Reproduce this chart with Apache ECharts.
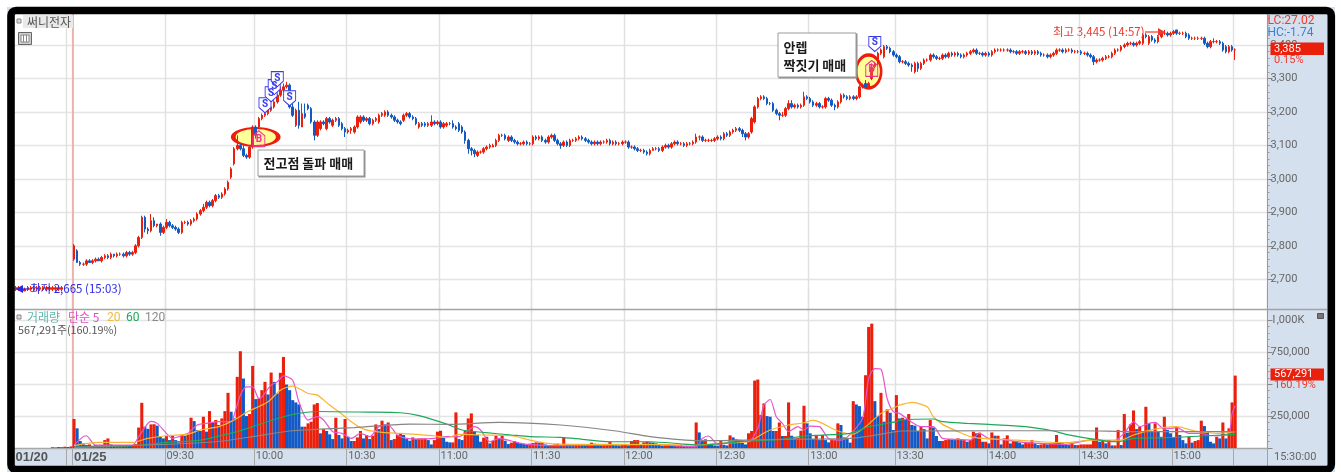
<!DOCTYPE html>
<html>
<head>
<meta charset="utf-8">
<style>
  html, body { margin: 0; padding: 0; background: #fff; }
  #chart { width: 1341px; height: 472px; }
</style>
<script src="https://cdn.jsdelivr.net/npm/echarts@6/dist/echarts.min.js"></script>
</head>
<body>
<div id="chart"></div>
<script>
// 1-minute bars, index 0-18 belong to the previous day (01/20)
var opens = [
  2670,2670,2670,2665,2670,2670,2670,2670,2670,2670,2670,2670,2670,2670,2670,2670,null,null,null,
  2760,2785,2750,2745,2745,2755,2750,2755,2760,2755,
  2765,2770,2765,2775,2770,2775,2775,2770,2780,2775,
  2780,2800,2825,2885,2850,2845,2875,2860,2865,2840,
  2855,2870,2860,2855,2850,2840,2870,2870,2865,2875,
  2880,2895,2905,2915,2930,2920,2935,2950,2945,2955,
  2970,3005,3045,3090,3100,3090,3070,3065,3095,3155,
  3155,3180,3190,3195,3205,3215,3230,3250,3265,3275,
  3280,3215,3160,3205,3155,3195,3220,3210,3170,3130,
  3150,3170,3150,3180,3160,3175,3180,3165,3150,3140,
  3145,3140,3155,3170,3185,3175,3180,3165,3175,3170,
  3190,3190,3200,3190,3185,3175,3170,3175,3190,3195,
  3185,3180,3155,3165,3165,3160,3160,3170,3165,3170,
  3155,3160,3165,3165,3155,3165,3155,3140,3115,3090,
  3085,3070,3080,3080,3090,3095,3095,3100,3115,3130,
  3130,3115,3125,3115,3110,3105,3105,3110,3105,3105,
  3125,3120,3125,3115,3110,3125,3130,3115,3105,3100,
  3110,3100,3115,3115,3120,3125,3120,3115,3110,3105,
  3110,3105,3110,3110,3115,3105,3110,3105,3105,3110,
  3110,3095,3095,3090,3085,3085,3080,3075,3085,3090,
  3090,3085,3095,3100,3095,3105,3110,3105,3105,3100,
  3105,3105,3110,3125,3125,3115,3115,3115,3115,3120,
  3125,3120,3135,3130,3140,3145,3150,3145,3135,3125,
  3140,3170,3215,3240,3245,3240,3225,3225,3205,3195,
  3190,3190,3210,3225,3215,3220,3215,3220,3245,3240,
  3230,3220,3225,3215,3215,3240,3235,3220,3215,3230,
  3250,3245,3240,3245,3240,3245,3275,3285,3275,3300,
  3335,3345,3375,3365,3395,3390,3380,3370,3365,3350,
  3350,3345,3340,3320,3345,3330,3345,3355,3355,3370,
  3365,3360,3360,3370,3365,3375,3370,3375,3370,3365,
  3370,3375,3380,3385,3375,3375,3370,3375,3370,3380,
  3385,3385,3385,3385,3385,3380,3380,3375,3380,3380,
  3375,3380,3375,3380,3375,3370,3370,3365,3370,3375,
  3385,3385,3380,3385,3385,3380,3380,3380,3375,3375,
  3370,3365,3350,3355,3355,3360,3365,3365,3375,3385,
  3385,3395,3400,3405,3405,3400,3405,3405,3430,3405,
  3425,3415,3410,3425,3435,3435,3430,3435,3445,3435,
  3435,3435,3430,3420,3420,3420,3420,3420,3405,3395,
  3410,3410,3410,3405,3395,3380,3395,3385
];
var closes = [
  2675,2675,2675,2670,2675,2675,2675,2675,2675,2675,2675,2675,2675,2675,2675,2675,null,null,null,
  2800,2750,2745,2745,2755,2750,2755,2760,2755,2765,
  2770,2765,2775,2770,2775,2775,2770,2780,2775,2780,
  2800,2825,2885,2850,2845,2875,2860,2865,2840,2855,
  2870,2860,2855,2850,2840,2870,2870,2865,2875,2880,
  2895,2905,2915,2930,2920,2935,2950,2945,2955,2970,
  2990,3030,3090,3100,3090,3070,3065,3095,3155,3130,
  3180,3190,3195,3205,3215,3230,3250,3265,3275,3280,
  3215,3190,3205,3160,3195,3185,3210,3170,3130,3170,
  3170,3165,3180,3170,3175,3180,3160,3150,3140,3145,
  3150,3155,3185,3185,3175,3180,3165,3175,3180,3190,
  3195,3200,3190,3185,3175,3170,3165,3190,3195,3185,
  3180,3165,3165,3160,3160,3165,3170,3165,3170,3155,
  3165,3165,3165,3155,3150,3145,3140,3115,3090,3085,
  3075,3080,3080,3090,3095,3100,3100,3115,3130,3130,
  3120,3125,3115,3110,3105,3105,3110,3105,3105,3125,
  3120,3125,3115,3110,3125,3130,3115,3105,3100,3110,
  3100,3115,3115,3120,3125,3120,3115,3110,3105,3110,
  3105,3110,3110,3115,3105,3110,3105,3105,3110,3110,
  3095,3095,3090,3085,3085,3080,3075,3085,3090,3090,
  3085,3095,3100,3095,3105,3110,3105,3105,3100,3105,
  3105,3110,3125,3125,3115,3115,3115,3115,3120,3125,
  3120,3135,3130,3140,3145,3150,3145,3135,3125,3135,
  3180,3215,3240,3245,3240,3225,3225,3205,3195,3190,
  3190,3210,3225,3215,3220,3215,3220,3245,3240,3230,
  3220,3225,3215,3215,3240,3235,3220,3215,3230,3250,
  3245,3240,3245,3240,3245,3275,3280,3275,3285,3330,
  3345,3375,3385,3395,3390,3380,3370,3365,3350,3350,
  3345,3340,3335,3345,3330,3345,3355,3355,3370,3365,
  3360,3360,3370,3365,3375,3370,3375,3370,3365,3370,
  3375,3380,3385,3375,3375,3370,3375,3370,3380,3385,
  3385,3385,3385,3385,3380,3380,3375,3380,3380,3375,
  3380,3375,3380,3375,3370,3370,3365,3370,3375,3385,
  3385,3380,3385,3385,3380,3380,3380,3375,3375,3370,
  3365,3350,3355,3355,3360,3365,3365,3375,3385,3385,
  3395,3400,3405,3405,3400,3405,3410,3430,3425,3425,
  3415,3410,3425,3435,3435,3430,3435,3440,3435,3435,
  3435,3425,3420,3420,3420,3420,3420,3405,3395,3410,
  3410,3410,3405,3385,3380,3395,3385,3385
];
var highs = [
  2680,2680,2680,2675,2680,2680,2680,2680,2680,2680,2680,2680,2680,2680,2680,2680,null,null,null,
  2805,2790,2755,2750,2760,2760,2760,2765,2765,2770,
  2775,2775,2780,2775,2780,2780,2780,2785,2785,2785,
  2805,2830,2890,2890,2855,2895,2885,2865,2870,2860,
  2880,2875,2865,2860,2855,2875,2875,2875,2880,2885,
  2900,2910,2925,2935,2935,2940,2955,2955,2960,2975,
  2995,3035,3095,3130,3105,3100,3075,3100,3160,3160,
  3185,3195,3200,3210,3220,3235,3255,3275,3285,3290,
  3285,3225,3210,3230,3225,3225,3225,3215,3175,3175,
  3175,3175,3185,3185,3180,3185,3185,3170,3155,3150,
  3155,3160,3190,3190,3190,3185,3185,3180,3185,3195,
  3200,3205,3205,3195,3190,3180,3175,3195,3200,3200,
  3190,3185,3170,3170,3170,3170,3190,3175,3175,3175,
  3170,3170,3170,3175,3160,3170,3160,3145,3120,3095,
  3090,3085,3085,3095,3100,3105,3105,3120,3135,3135,
  3135,3130,3130,3120,3115,3110,3115,3115,3110,3130,
  3130,3130,3130,3120,3130,3135,3135,3120,3110,3115,
  3115,3120,3120,3125,3130,3130,3125,3120,3115,3115,
  3115,3115,3115,3120,3120,3115,3115,3110,3115,3115,
  3115,3100,3100,3095,3090,3090,3085,3090,3095,3095,
  3095,3100,3105,3105,3110,3115,3115,3110,3110,3110,
  3110,3115,3135,3130,3130,3120,3120,3120,3125,3130,
  3130,3140,3140,3145,3150,3155,3155,3150,3140,3140,
  3185,3220,3245,3250,3250,3245,3230,3230,3210,3200,
  3200,3215,3235,3235,3225,3225,3225,3260,3250,3245,
  3235,3230,3230,3220,3245,3245,3240,3225,3235,3255,
  3255,3250,3250,3250,3250,3280,3285,3295,3290,3345,
  3350,3380,3390,3400,3400,3395,3385,3375,3370,3355,
  3355,3350,3345,3350,3350,3350,3360,3360,3375,3375,
  3370,3365,3375,3375,3380,3380,3380,3380,3375,3375,
  3380,3385,3390,3390,3380,3380,3380,3380,3385,3390,
  3390,3390,3390,3390,3390,3385,3385,3385,3385,3385,
  3385,3385,3385,3385,3380,3375,3375,3375,3380,3390,
  3390,3390,3390,3390,3390,3385,3385,3385,3380,3380,
  3375,3370,3360,3360,3365,3370,3370,3380,3390,3390,
  3400,3405,3410,3410,3410,3410,3415,3435,3435,3430,
  3430,3420,3430,3440,3445,3440,3440,3445,3445,3440,
  3440,3440,3435,3425,3425,3425,3425,3425,3410,3415,
  3420,3415,3415,3410,3400,3400,3400,3390
];
var lows = [
  2665,2665,2665,2665,2665,2665,2665,2665,2665,2665,2665,2665,2665,2665,2665,2665,null,null,null,
  2755,2750,2740,2740,2740,2750,2745,2750,2755,2750,
  2760,2760,2760,2765,2765,2770,2765,2765,2770,2770,
  2775,2795,2820,2840,2835,2840,2855,2855,2830,2835,
  2850,2855,2850,2845,2835,2835,2865,2860,2860,2870,
  2875,2890,2900,2910,2915,2915,2930,2940,2940,2950,
  2965,3000,3040,3085,3085,3065,3060,3060,3090,3120,
  3150,3175,3185,3190,3200,3210,3225,3245,3260,3270,
  3210,3185,3155,3150,3155,3180,3205,3165,3115,3125,
  3145,3160,3145,3165,3155,3170,3155,3145,3125,3135,
  3135,3135,3150,3165,3170,3170,3160,3160,3170,3165,
  3185,3185,3185,3180,3170,3165,3160,3170,3185,3180,
  3175,3160,3150,3155,3155,3155,3155,3160,3160,3150,
  3150,3155,3160,3150,3145,3140,3135,3105,3075,3070,
  3065,3065,3075,3075,3085,3090,3095,3095,3110,3125,
  3115,3110,3110,3105,3100,3100,3100,3100,3100,3100,
  3115,3115,3110,3105,3105,3120,3110,3100,3090,3095,
  3095,3095,3110,3110,3115,3115,3110,3105,3100,3100,
  3100,3100,3105,3105,3100,3100,3100,3100,3100,3105,
  3090,3090,3085,3080,3080,3075,3070,3070,3085,3085,
  3080,3080,3090,3090,3090,3100,3100,3100,3095,3095,
  3100,3100,3105,3115,3110,3110,3110,3110,3110,3115,
  3115,3115,3125,3125,3135,3140,3140,3125,3115,3120,
  3135,3165,3210,3235,3235,3220,3220,3200,3190,3175,
  3185,3185,3205,3210,3210,3210,3210,3215,3235,3225,
  3215,3215,3210,3210,3210,3230,3215,3205,3210,3225,
  3240,3235,3235,3235,3235,3240,3270,3270,3270,3295,
  3330,3340,3370,3360,3385,3375,3365,3360,3345,3345,
  3340,3335,3320,3315,3320,3325,3340,3350,3350,3360,
  3355,3355,3355,3360,3360,3365,3365,3365,3360,3360,
  3365,3370,3375,3370,3370,3365,3365,3365,3365,3375,
  3380,3380,3380,3380,3375,3375,3370,3370,3375,3370,
  3370,3370,3370,3370,3365,3365,3360,3360,3365,3370,
  3380,3375,3375,3380,3375,3375,3375,3370,3370,3365,
  3360,3340,3345,3350,3350,3355,3360,3360,3370,3380,
  3380,3390,3395,3400,3395,3395,3400,3400,3420,3400,
  3410,3405,3405,3420,3430,3425,3425,3430,3430,3430,
  3430,3420,3415,3415,3415,3415,3415,3400,3390,3390,
  3405,3405,3400,3380,3375,3375,3380,3355
];
// thousands of shares
var volumes = [
  0,0,0,0,0,0,0,0,0,0,
  0,0,6,4,8,6,10,8,12,
  227,154,55,36,23,28,18,23,20,24,
  62,75,28,18,20,23,15,18,15,20,
  30,160,354,167,150,185,186,175,88,75,
  94,62,94,62,44,100,96,107,237,211,
  140,133,245,128,289,200,219,180,232,289,
  432,284,232,557,758,544,250,266,643,383,
  388,453,518,419,591,518,427,589,713,497,
  453,375,357,341,167,167,193,206,341,352,
  115,148,133,107,70,237,102,75,227,88,
  55,55,83,133,75,102,70,96,185,148,
  214,185,200,62,70,102,115,102,70,57,
  83,70,75,75,75,62,28,62,128,135,
  88,49,44,44,279,70,62,133,232,271,
  128,102,49,81,88,36,55,96,70,102,
  57,31,42,55,44,36,31,28,34,39,
  44,42,44,28,18,23,28,34,23,83,
  28,20,15,20,31,26,20,28,42,34,
  26,18,20,23,49,26,20,18,23,28,
  20,55,62,62,30,44,49,44,42,36,
  26,18,20,28,23,15,18,23,15,18,
  12,15,200,122,55,68,28,23,20,18,
  55,25,20,99,83,68,57,42,28,115,
  133,528,536,258,349,250,245,133,133,200,
  94,94,357,96,75,81,135,331,193,115,
  70,94,62,102,62,44,62,62,193,180,
  83,70,42,367,341,328,245,570,948,974,
  367,250,432,206,302,276,141,414,232,237,
  219,266,180,175,133,167,148,75,219,161,
  94,55,55,62,70,65,62,75,62,62,
  49,62,128,115,120,49,49,36,122,96,
  96,28,75,99,36,55,49,42,28,42,
  42,62,36,23,28,36,28,34,36,102,
  44,36,28,23,36,23,23,28,28,28,
  28,62,161,49,62,36,62,20,20,141,
  23,266,120,185,294,148,167,133,323,193,
  133,193,133,88,245,141,115,81,167,102,
  62,36,88,42,55,62,214,172,128,49,
  36,88,75,200,75,154,357,567
];
// moving averages, read at their turning points: [bar index, thousands]
var ma5 = [[19,23],[22,89],[23,96],[26,23],[38,23],[40,89],[43,193],[44,208],[46,193],[49,115],[51,75],[53,89],[56,115],[59,180],[62,193],[66,206],[70,206],[71,258],[73,414],[75,479],[77,479],[79,388],[80,401],[83,492],[85,518],[87,565],[90,531],[92,362],[95,219],[98,245],[100,219],[103,128],[106,115],[109,75],[112,115],[115,89],[118,167],[121,180],[124,102],[127,75],[131,70],[136,75],[140,89],[144,89],[149,167],[151,141],[154,49],[157,75],[161,55],[166,29],[177,18],[195,23],[206,29],[221,10],[223,75],[225,94],[228,29],[235,62],[238,49],[241,154],[243,336],[245,380],[247,245],[249,193],[251,128],[254,167],[256,141],[258,172],[261,167],[264,75],[268,62],[271,107],[275,232],[277,544],[279,622],[281,617],[283,388],[285,284],[287,271],[290,219],[294,167],[298,167],[301,75],[305,68],[310,62],[313,115],[316,75],[322,62],[327,44],[333,36],[341,29],[350,68],[356,49],[360,115],[363,206],[365,167],[368,193],[370,200],[373,148],[377,159],[381,115],[385,115],[388,96],[391,96],[394,115],[395,271],[396,330]];
var ma20 = [[19,18],[27,44],[38,44],[43,75],[49,96],[56,109],[60,141],[66,167],[71,219],[75,279],[82,362],[86,453],[90,484],[92,466],[95,427],[98,414],[102,336],[105,284],[109,206],[113,148],[119,122],[125,115],[136,96],[140,81],[144,107],[152,102],[161,96],[167,62],[173,36],[180,29],[195,29],[221,23],[228,36],[238,49],[242,102],[245,141],[251,180],[256,198],[259,219],[262,193],[267,133],[272,109],[276,167],[281,271],[286,323],[287,336],[291,357],[296,323],[298,245],[301,185],[306,128],[310,89],[314,75],[325,62],[333,49],[341,42],[350,62],[359,62],[363,102],[370,148],[377,167],[383,133],[391,115],[396,128]];
var ma60 = [[19,5],[38,18],[49,44],[60,62],[71,122],[77,167],[87,245],[92,271],[98,286],[114,281],[125,276],[131,253],[140,187],[145,141],[152,122],[161,102],[167,89],[177,83],[184,68],[193,49],[206,49],[217,31],[222,23],[238,55],[249,68],[256,94],[271,115],[277,167],[286,206],[287,219],[298,227],[301,206],[309,193],[316,185],[328,167],[337,133],[341,107],[352,62],[358,49],[363,75],[374,81],[385,94],[396,107]];
var ma120 = [[19,5],[49,29],[65,49],[77,89],[89,133],[99,148],[110,159],[114,167],[128,187],[141,185],[157,200],[177,180],[195,133],[206,89],[222,57],[249,68],[271,75],[286,128],[287,133],[320,135],[346,135],[363,128],[396,128]];

// buy / sell signals and the two marked zones: [bar index, price]
var sellSignals = [[81,3220],[83,3253],[84,3274],[85,3298],[89,3241],[279,3403]];
var buySignals = [[79,3120],[278,3330]];
var zones = [[78,3125,45,18],[277,3321,25,33]];

var priceTicks = { min: 2600, max: 3500, step: 100 };
var volumeTicks = { min: 0, max: 1250, step: 250 };

var labelTicks = ['01/20','01/25','09:30','10:00','10:30','11:00','11:30','12:00','12:30','13:00','13:30','14:00','14:30','15:00'];
var lineTicks = ['01/20-end','01/25','09:30','10:00','10:30','11:00','11:30','12:00','12:30','13:00','13:30','14:00','14:30','15:00','15:30'];
var skippedMinutes = ['09:47','13:10','13:20'];

function pad(n) { return (n < 10 ? '0' : '') + n; }

var categories = ['01/20'];
for (var p = 1; p < 19; p++) categories.push(p == 17 ? '01/20-end' : '01/20-' + p);
for (var m = 540; m < 920; m++) {
    var t = pad(Math.floor(m / 60)) + ':' + pad(m % 60);
    if (skippedMinutes.indexOf(t) >= 0) continue;
    categories.push(t == '09:00' ? '01/25' : t);
}
categories.push('15:30');
for (var e = 0; e < 10; e++) categories.push('end-' + e);

var candleData = opens.map(function (o, i) {
    if (o === null) return ['-', '-', '-', '-'];
    return [o, closes[i], lows[i], highs[i]];
});

var RED = '#ea1f0c', BLUE = '#1259c4', PANEL = '#d5e0ee';
var KR = '"Noto Sans CJK KR", sans-serif';
var NUM = 'Roboto, "Noto Sans CJK KR", sans-serif';
var BAND = 3.08;
var gridLeft = 13.96, gridWidth = 407 * BAND;

function isLine(i, v) { return lineTicks.indexOf(v) >= 0; }
function isLabel(i, v) { return labelTicks.indexOf(v) >= 0; }
function comma(v) { return String(v).replace(/\B(?=(\d{3})+$)/g, ','); }

function txt(x, y, text, fill, font, z) {
    return { type: 'text', z: z || 70, silent: true, x: x, y: y,
        style: { text: text, fill: fill, font: font || ('12px ' + KR), verticalAlign: 'middle', align: 'left' } };
}
function box(x, y, w, h, fill, stroke, z) {
    return { type: 'rect', z: z || 65, silent: true, shape: { x: x, y: y, width: w, height: h },
        style: { fill: fill, stroke: stroke || null, lineWidth: stroke ? 1 : 0 } };
}
function seg(x1, y1, x2, y2, color, width, z) {
    return { type: 'line', z: z || 60, silent: true, shape: { x1: x1, y1: y1, x2: x2, y2: y2 },
        style: { stroke: color, lineWidth: width || 1 } };
}
function tri(points, fill) {
    return { type: 'polygon', z: 70, silent: true, shape: { points: points }, style: { fill: fill } };
}

var overlays = [
    seg(73, 14, 73, 448, '#f2a6a0', 1.6, 1),
    // strip cover and panel separator
    box(1268, 283, 5, 36, PANEL),
    seg(15, 309.5, 1327, 309.5, '#a3a3a3', 1.4, 66),
    seg(1267.5, 449, 1267.5, 466, '#a0a0a0', 1, 66),

    // name tag
    box(17, 19, 4, 4, '#ddd', '#888'),
    box(23, 15, 50, 13, '#e9e9e9'),
    txt(27, 22, '써니전자', '#555'),
    box(18.5, 32.5, 13, 12, '#cfcfcf', '#666'),
    box(21, 35, 8, 7, '#fff', '#888'),
    seg(23.5, 35, 23.5, 42, '#888', 1, 66),
    seg(26.5, 35, 26.5, 42, '#888', 1, 66),

    // right panel tags
    txt(1267.5, 20.5, 'LC:27.02', '#ee3a2c', '12px ' + NUM),
    txt(1267.5, 32.5, 'HC:-1.74', '#3d7fd9', '12px ' + NUM),
    box(1270.5, 42.5, 53.5, 12.5, RED),
    txt(1274, 49, '3,385', '#fff', '11px ' + NUM),
    txt(1274, 60.5, '0.15%', '#ee3a2c', '11px ' + NUM),
    box(1270.5, 368.5, 53.5, 12, RED),
    txt(1274, 374.5, '567,291', '#fff', '11px ' + NUM),
    txt(1274, 385.5, '160.19%', '#ee3a2c', '11px ' + NUM),
    box(1317.5, 313.5, 6, 5, '#777', '#555'),
    txt(1274, 457, '15:30:00', '#666', '11px ' + NUM),

    // volume legend
    box(17, 315, 4, 4, '#ddd', '#888'),
    txt(27, 317.5, '거래량', '#5cb8b2'),
    txt(68, 317.5, '단순 5', '#e04fc8'),
    txt(107, 317.5, '20', '#f5b73a', '12px ' + NUM),
    txt(126, 317.5, '60', '#1ea85a', '12px ' + NUM),
    txt(145, 317.5, '120', '#8a8a8a', '12px ' + NUM),
    txt(18, 330, '567,291주(160.19%)', '#555', '10.8px ' + KR),

    // high / low notes
    txt(30, 289, '최저 2,665 (15:03)', '#2a2ae6', '11.5px ' + KR),
    seg(20, 289, 30, 289, '#2a2ae6', 1.2, 70),
    tri([[15.5, 289], [23, 285], [23, 293]], '#2a2ae6'),
    txt(1053, 31.5, '최고 3,445 (14:57)', '#ee3a2c', '11.5px ' + KR),
    seg(1145, 32, 1159, 32, '#ee3a2c', 1.2, 70),
    tri([[1165, 32], [1158, 28], [1158, 36]], '#ee3a2c'),

    // trade notes
    box(258.5, 150.5, 107, 27, '#8f8f8f', null, 63),
    box(258, 150, 106, 26, '#fff', '#9a9a9a'),
    txt(263.5, 163.5, '전고점 돌파 매매', '#1a1a1a', 'bold 13px ' + KR),
    box(778.5, 33.5, 79, 45, '#8f8f8f', null, 63),
    box(778, 33, 78, 44, '#fff', '#9a9a9a'),
    txt(783.5, 47, '안렙', '#1a1a1a', 'bold 13px ' + KR),
    txt(783.5, 65, '짝짓기 매매', '#1a1a1a', 'bold 13px ' + KR),

    // outer frame
    { type: 'rect', z: 99, silent: true, shape: { x: 3.5, y: 3.5, width: 1335, height: 500 },
      style: { fill: null, stroke: '#fff', lineWidth: 7 } },
    { type: 'rect', z: 100, silent: true, shape: { x: 11, y: 10.5, width: 1320.3, height: 459, r: 5 },
      style: { fill: null, stroke: '#000', lineWidth: 7.6 } }
];

var chart = echarts.init(document.getElementById('chart'));
var gridLine = { show: true, interval: isLine, lineStyle: { color: '#e0e0e0', width: 1.4 } };
var hLine = { show: true, showMinLine: false, showMaxLine: false, lineStyle: { color: '#e4e4e4', width: 1.4 } };
var maLine = function (name, data, color) {
    return { name: name, type: 'line', xAxisIndex: 1, yAxisIndex: 1, data: data, z: 4,
        showSymbol: false, smooth: 0.25, silent: true, lineStyle: { color: color, width: 1.2 } };
};

var option = {
    animation: false,
    backgroundColor: PANEL,
    textStyle: { fontFamily: NUM },
    grid: [
        { left: gridLeft, top: 11.53, width: gridWidth, height: 301.2, show: true, backgroundColor: '#fff', borderWidth: 0 },
        { left: gridLeft, top: 288.4, width: gridWidth, height: 159.6, show: true, backgroundColor: '#fff', borderWidth: 0 }
    ],
    xAxis: [
        { type: 'category', gridIndex: 0, data: categories, boundaryGap: true,
          axisLine: { show: false }, axisTick: { show: false }, axisLabel: { show: false }, splitLine: gridLine },
        { type: 'category', gridIndex: 1, data: categories, boundaryGap: true,
          axisLine: { show: true, lineStyle: { color: '#a8a8a8', width: 1.4 } },
          axisTick: { show: true, interval: isLine, length: 17, lineStyle: { color: '#a8a8a8' } },
          splitLine: gridLine,
          axisLabel: {
              show: true, interval: isLabel, align: 'left', margin: 3, color: '#666', fontSize: 11, fontFamily: NUM,
              formatter: function (v) { return v.indexOf('/') > 0 ? '{d|' + v + '}' : v; },
              rich: { d: { fontSize: 13, fontWeight: 'bold', color: '#555', fontFamily: 'Liberation Sans' } }
          } }
    ],
    yAxis: [
        { type: 'value', gridIndex: 0, position: 'right', min: priceTicks.min, max: priceTicks.max, interval: priceTicks.step,
          axisLine: { show: true, lineStyle: { color: '#9a9a9a' } },
          axisTick: { show: true, length: 5, lineStyle: { color: '#888' } },
          minorTick: { show: true, splitNumber: 5, length: 2, lineStyle: { color: '#999' } },
          splitLine: hLine,
          axisLabel: { margin: 3, color: '#666', fontSize: 11, fontFamily: NUM,
              formatter: function (v) { return v <= priceTicks.min || v >= priceTicks.max ? '' : comma(v); } } },
        { type: 'value', gridIndex: 1, position: 'right', min: volumeTicks.min, max: volumeTicks.max, interval: volumeTicks.step,
          axisLine: { show: true, lineStyle: { color: '#9a9a9a' } },
          axisTick: { show: true, length: 5, lineStyle: { color: '#888' } },
          minorTick: { show: true, splitNumber: 5, length: 2, lineStyle: { color: '#999' } },
          splitLine: hLine,
          axisLabel: { margin: 3, color: '#666', fontSize: 11, fontFamily: NUM,
              formatter: function (v) {
                  if (v == 1000) return '1,000K';
                  if (v == 250 || v == 750) return v + ',000';
                  return '';
              } } }
    ],
    series: [
        { name: 'zones', type: 'scatter', xAxisIndex: 0, yAxisIndex: 0, z: 1, silent: true, data: zones,
          symbol: 'circle', symbolSize: function (d) { return [d[2], d[3]]; },
          itemStyle: { color: '#ffff99', borderColor: '#ee1c0c', borderWidth: 3, opacity: 1 } },
        { name: '써니전자', type: 'candlestick', xAxisIndex: 0, yAxisIndex: 0, z: 2, data: candleData, barWidth: 2,
          itemStyle: { color: RED, color0: BLUE, borderColor: RED, borderColor0: BLUE, borderWidth: 1 } },
        { name: 'sell', type: 'scatter', xAxisIndex: 0, yAxisIndex: 0, z: 5, silent: true, data: sellSignals,
          symbol: 'path://M0 0H12V9L6 14L0 9Z', symbolSize: [12, 15],
          itemStyle: { color: '#fff', borderColor: '#3a3aee', borderWidth: 1, opacity: 1 },
          label: { show: true, position: 'inside', offset: [0, -1], formatter: 'S', color: '#3a3aee', fontSize: 10, fontWeight: 'bold', fontFamily: NUM } },
        { name: 'buy', type: 'scatter', xAxisIndex: 0, yAxisIndex: 0, z: 5, silent: true, data: buySignals,
          symbol: 'path://M6 0L12 5V16H0V5Z', symbolSize: [12, 16],
          itemStyle: { color: 'rgba(255,190,215,0.2)', borderColor: '#f0308a', borderWidth: 1, opacity: 1 },
          label: { show: true, position: 'inside', offset: [0, 1], formatter: 'B', color: '#f0308a', fontSize: 10, fontWeight: 'bold', fontFamily: NUM } },
        { name: '거래량', type: 'bar', xAxisIndex: 1, yAxisIndex: 1, z: 2, data: volumes, barWidth: 3.08,
          itemStyle: { color: function (p) { return p.dataIndex > 0 && p.value >= volumes[p.dataIndex - 1] ? RED : BLUE; } } },
        maLine('단순 5', ma5, '#e655cc'),
        maLine('20', ma20, '#f7b531'),
        maLine('60', ma60, '#1ea85a'),
        maLine('120', ma120, '#858585')
    ],
    graphic: { elements: overlays }
};
chart.setOption(option);
</script>
</body>
</html>
